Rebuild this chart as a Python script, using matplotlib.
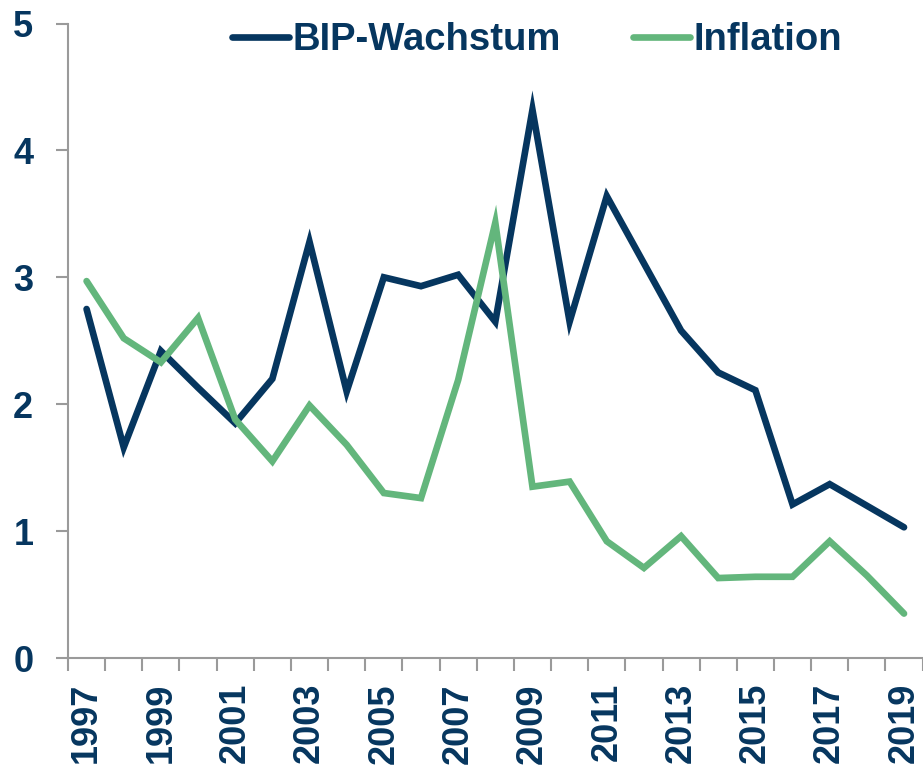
import matplotlib
matplotlib.use("Agg")
import matplotlib.pyplot as plt
from matplotlib.ticker import FixedLocator

years = list(range(1997, 2020))
bip = [2.75, 1.66, 2.42, 2.13, 1.85, 2.20, 3.28, 2.10, 3.00, 2.93, 3.02, 2.65,
       4.32, 2.65, 3.64, 3.11, 2.58, 2.25, 2.11, 1.21, 1.37, 1.20, 1.03]
inflation = [2.97, 2.52, 2.33, 2.68, 1.88, 1.55, 1.99, 1.68, 1.30, 1.26, 2.19, 3.43,
             1.35, 1.39, 0.92, 0.71, 0.96, 0.63, 0.64, 0.64, 0.92, 0.65, 0.35]
series_names = ["BIP-Wachstum", "Inflation"]
yticks = [0, 1, 2, 3, 4, 5]

NAVY = "#06365f"
GREEN = "#63b67c"
GRAY = "#9a9a9a"
FS_LEG = 27.5
FS_TICK = 26

plt.rcParams['font.family'] = ['Liberation Sans', 'DejaVu Sans']
plt.rcParams['font.weight'] = 'bold'

fig = plt.figure(figsize=(9.23, 7.69), dpi=100)
ax = fig.add_axes([68/923, 1-658/769, (922.6-68)/923, (658-23.5)/769])

x = list(range(len(years)))
ax.plot(x, bip, color=NAVY, lw=4.8, solid_joinstyle='miter', solid_capstyle='round', label=series_names[0])
ax.plot(x, inflation, color=GREEN, lw=4.8, solid_joinstyle='miter', solid_capstyle='round', label=series_names[1])

ax.set_xlim(-0.5, len(years) - 0.5)
ax.set_ylim(0, 5)

for s in ['top', 'right']:
    ax.spines[s].set_visible(False)
for s in ['left', 'bottom']:
    ax.spines[s].set_color(GRAY)
    ax.spines[s].set_linewidth(1.5)

ax.set_yticks(yticks)
ax.set_yticklabels([str(v) for v in yticks])
ax.tick_params(axis='y', length=9, width=1.5, color=GRAY, pad=16,
               labelsize=FS_TICK, labelcolor=NAVY)

# boundaries as major ticks, year labels at centres as minor ticks
ax.xaxis.set_major_locator(FixedLocator([i - 0.5 for i in range(len(years) + 1)]))
ax.xaxis.set_major_formatter(plt.NullFormatter())
ax.tick_params(axis='x', which='major', length=9, width=1.5, color=GRAY)
ax.xaxis.set_minor_locator(FixedLocator(x))
ax.set_xticklabels([str(y) if (y - 1997) % 2 == 0 else "" for y in years], minor=True)
ax.tick_params(axis='x', which='minor', length=0, pad=18, labelsize=FS_TICK,
               labelcolor=NAVY, labelrotation=90)
for lbl in ax.get_xticklabels(minor=True):
    lbl.set_fontweight('bold')
for lbl in ax.get_yticklabels():
    lbl.set_fontweight('bold')

leg = ax.legend(loc='center left', bbox_to_anchor=(232/923, 1-40/769),
                bbox_transform=fig.transFigure, ncol=2, frameon=False,
                borderpad=0, borderaxespad=0, handlelength=1.49,
                handletextpad=0.1, columnspacing=1.88,
                prop={'size': FS_LEG, 'weight': 'bold'})
for t in leg.get_texts():
    t.set_color(NAVY)

fig.savefig("out.png", dpi=100)
